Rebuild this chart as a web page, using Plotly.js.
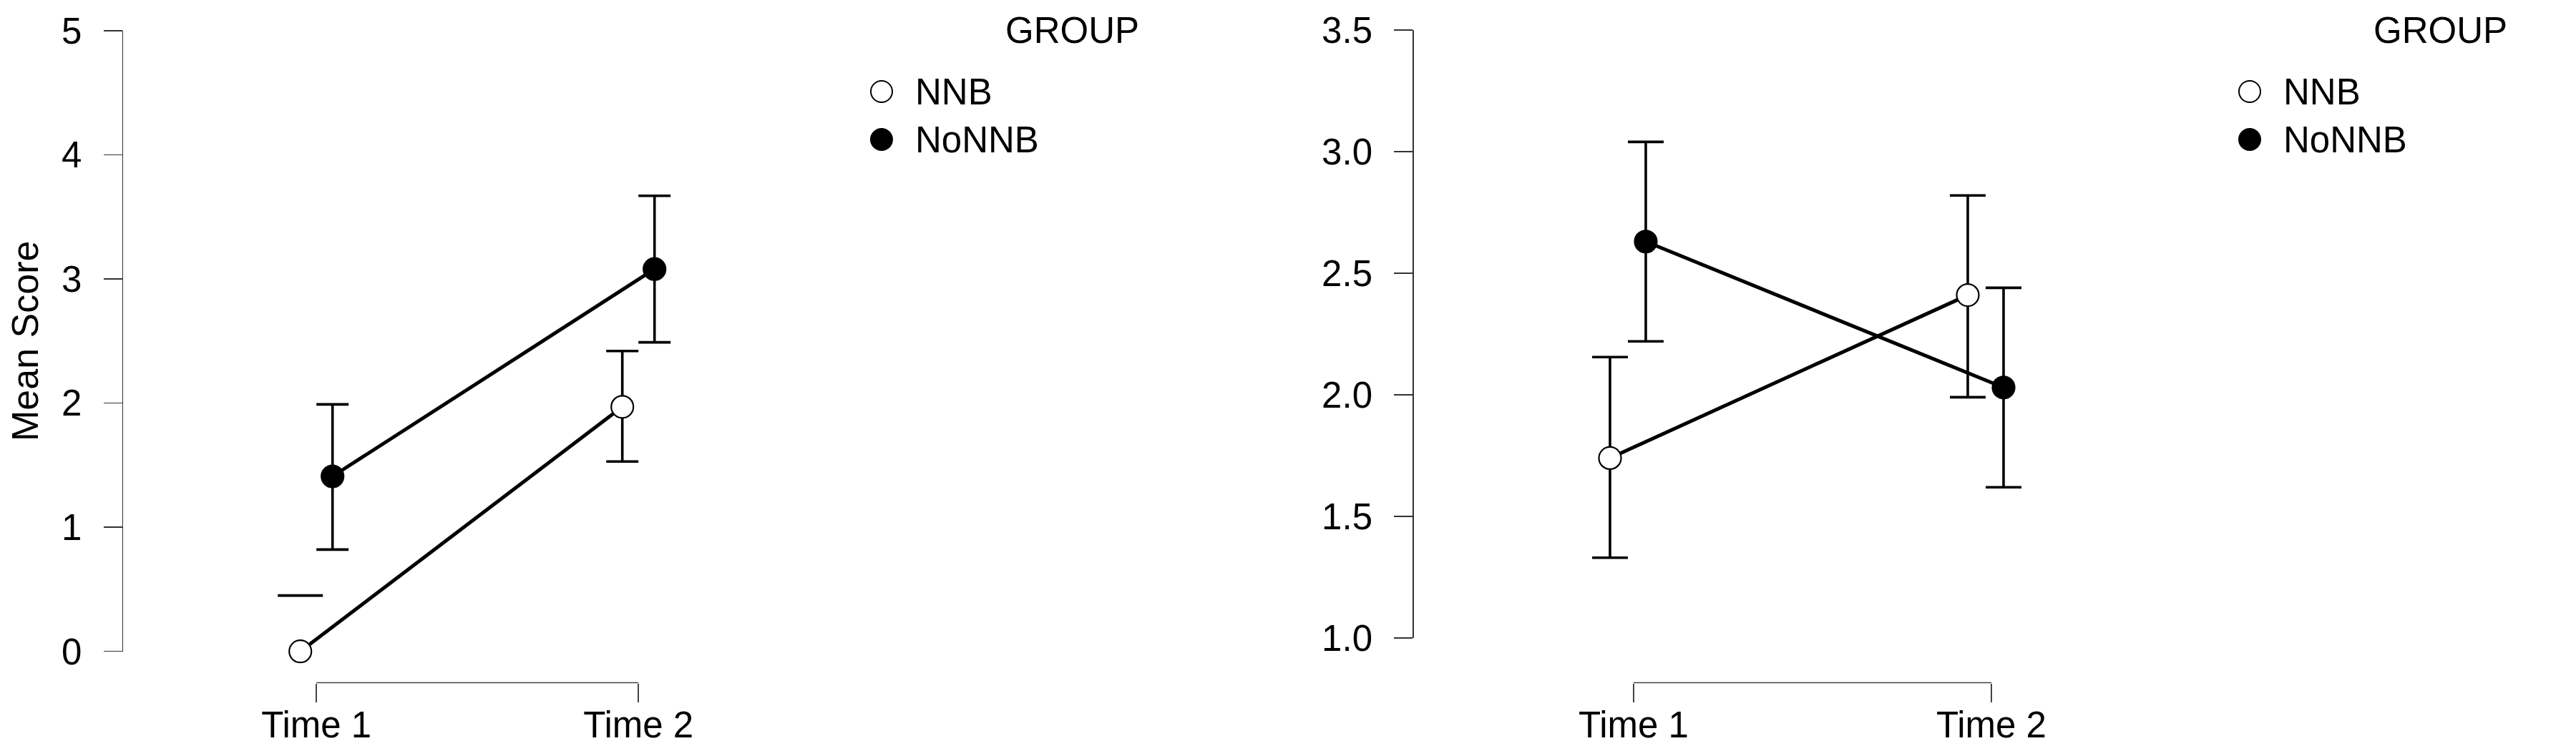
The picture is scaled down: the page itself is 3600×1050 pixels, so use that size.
<!DOCTYPE html>
<html>
<head>
<meta charset="utf-8">
<script src="https://cdn.plot.ly/plotly-3.0.1.min.js"></script>
<style>html,body{margin:0;padding:0;background:#fff;}#chart{width:3600px;height:1050px;}</style>
</head>
<body>
<div id="chart"></div>
<script>
// ---------- data ----------
const times = ['Time 1', 'Time 2'];
const groups = ['NNB', 'NoNNB'];
const legendTitle = 'GROUP';
const yLabel = 'Mean Score';

// Left panel
const leftMeanNNB   = [0.00, 1.97];
const leftLowerNNB  = [-0.45, 1.53];
const leftUpperNNB  = [0.45, 2.42];
const leftMeanNoNNB  = [1.41, 3.08];
const leftLowerNoNNB = [0.82, 2.49];
const leftUpperNoNNB = [1.99, 3.67];
const leftYTicks = [0, 1, 2, 3, 4, 5];

// Right panel
const rightMeanNNB   = [1.74, 2.41];
const rightLowerNNB  = [1.33, 1.99];
const rightUpperNNB  = [2.155, 2.82];
const rightMeanNoNNB  = [2.63, 2.03];
const rightLowerNoNNB = [2.22, 1.62];
const rightUpperNoNNB = [3.04, 2.44];
const rightYTicks = [1.0, 1.5, 2.0, 2.5, 3.0, 3.5];

// ---------- layout constants ----------
const W = 3600, H = 1050;
const FONT = 'Liberation Sans, Arial, Helvetica, sans-serif';
const FS = 51;
const px = v => v / W;
const py = v => 1 - v / H;
const DODGE = 0.05;

const panels = [
  { xa: 'x', ya: 'y', lx: 'x3', ly: 'y3',
    means: [leftMeanNNB, leftMeanNoNNB], lowers: [leftLowerNNB, leftLowerNoNNB], uppers: [leftUpperNNB, leftUpperNoNNB],
    yTicks: leftYTicks, fmt: v => String(v),
    axisX: 172, c1: 442.2, unit: 450, domEnd: 1150, yBot: 910.7, yTop: 43, cap: 22.5, tickShiftPx: 0,
    legMarkX: 1232, groupX: 1403 },
  { xa: 'x2', ya: 'y2', lx: 'x4', ly: 'y4',
    means: [rightMeanNNB, rightMeanNoNNB], lowers: [rightLowerNNB, rightLowerNoNNB], uppers: [rightUpperNNB, rightUpperNoNNB],
    yTicks: rightYTicks, fmt: v => v.toFixed(1),
    axisX: 1975.7, c1: 2275, unit: 500, domEnd: 3000, yBot: 892, yTop: 42, cap: 25, tickShiftPx: 8,
    legMarkX: 3144, groupX: 3315 }
];

const xAxisLinePx = 954.5;
const legRowTop = 128, legRowBot = 195;

const data = [];
const layout = {
  width: W, height: H,
  margin: { l: 0, r: 0, t: 0, b: 0, pad: 0 },
  paper_bgcolor: '#ffffff', plot_bgcolor: 'rgba(0,0,0,0)',
  showlegend: false,
  font: { family: FONT, size: FS, color: '#000' },
  shapes: [], annotations: []
};

panels.forEach((p, pi) => {
  const xr0 = 1 - (p.c1 - p.axisX) / p.unit;
  const xr1 = 1 + (p.domEnd - p.c1) / p.unit;
  const yr = [p.yTicks[0], p.yTicks[p.yTicks.length - 1]];
  const xKey = pi === 0 ? 'xaxis' : 'xaxis2';
  const yKey = pi === 0 ? 'yaxis' : 'yaxis2';
  const xPos = times.map((t, i) => i + 1);
  const tickPos = xPos.map(v => v + p.tickShiftPx / p.unit);

  layout[xKey] = {
    domain: [px(p.axisX), px(p.domEnd)], range: [xr0, xr1],
    anchor: 'free', position: py(xAxisLinePx),
    showline: false, showgrid: false, zeroline: false,
    ticks: 'outside', ticklen: 26, tickwidth: 1.5, tickcolor: '#444',
    tickvals: tickPos, ticktext: times, ticklabelstandoff: -12,
    tickfont: { family: FONT, size: FS, color: '#000' }, fixedrange: true
  };
  layout[yKey] = {
    domain: [py(p.yBot), py(p.yTop)], range: yr,
    anchor: p.xa,
    showline: true, linecolor: '#333', linewidth: 1.5,
    showgrid: false, zeroline: false,
    ticks: 'outside', ticklen: 26, tickwidth: 1.5, tickcolor: '#333',
    tickvals: p.yTicks, ticktext: p.yTicks.map(p.fmt), ticklabelstandoff: 20,
    tickfont: { family: FONT, size: FS, color: '#000' }, fixedrange: true
  };
  // R-style x axis line spanning only the categories
  layout.shapes.push({ type: 'line', xref: p.xa, yref: 'paper', x0: tickPos[0], x1: tickPos[tickPos.length - 1],
    y0: py(xAxisLinePx), y1: py(xAxisLinePx), line: { color: '#444', width: 1.5 } });

  // connecting lines first (below markers)
  groups.forEach((g, gi) => {
    const off = gi === 0 ? -DODGE : DODGE;
    data.push({
      type: 'scatter', mode: 'lines', xaxis: p.xa, yaxis: p.ya,
      x: xPos.map(v => v + off), y: p.means[gi],
      line: { color: '#000', width: 5 }, hoverinfo: 'skip', cliponaxis: false, showlegend: false
    });
  });
  // markers with error bars
  groups.forEach((g, gi) => {
    const off = gi === 0 ? -DODGE : DODGE;
    const m = p.means[gi], lo = p.lowers[gi], up = p.uppers[gi];
    const clipped = lo.map(v => v < yr[0]);
    const eUp = m.map((v, i) => clipped[i] ? NaN : up[i] - v);
    const eDn = m.map((v, i) => clipped[i] ? NaN : v - lo[i]);
    // cap-only for intervals running below the axis
    const capX = [], capY = [];
    clipped.forEach((c, i) => { if (c) { capX.push(xPos[i] + off); capY.push(up[i]); } });
    if (capX.length) {
      data.push({
        type: 'scatter', mode: 'markers', xaxis: p.xa, yaxis: p.ya, x: capX, y: capY,
        marker: { symbol: 'line-ew', size: p.cap * 2, color: '#000', line: { color: '#000', width: 3.6 } },
        hoverinfo: 'skip', cliponaxis: false, showlegend: false
      });
    }
    data.push({
      type: 'scatter', mode: 'markers', name: g, xaxis: p.xa, yaxis: p.ya,
      x: xPos.map(v => v + off), y: m,
      error_y: { type: 'data', symmetric: false, array: eUp, arrayminus: eDn,
                 color: '#000', thickness: 3.6, width: p.cap },
      marker: { size: 31, color: gi === 0 ? '#ffffff' : '#000000', line: { color: '#000', width: 2.2 } },
      cliponaxis: false, showlegend: false
    });
  });

  // custom legend on hidden axes
  const lxKey = pi === 0 ? 'xaxis3' : 'xaxis4';
  const lyKey = pi === 0 ? 'yaxis3' : 'yaxis4';
  layout[lxKey] = { domain: [px(p.legMarkX), px(p.legMarkX + 300)], range: [0, 1], visible: false, fixedrange: true, anchor: p.ly };
  layout[lyKey] = { domain: [py(legRowBot), py(legRowTop)], range: [0, groups.length - 1], visible: false, fixedrange: true, anchor: p.lx };
  data.push({
    type: 'scatter', mode: 'markers', xaxis: p.lx, yaxis: p.ly,
    x: groups.map(() => 0), y: groups.map((g, i) => groups.length - 1 - i),
    marker: { size: 30, color: groups.map((g, i) => i === 0 ? '#ffffff' : '#000000'), line: { color: '#000', width: 2 } },
    hoverinfo: 'skip', cliponaxis: false, showlegend: false
  });
  groups.forEach((g, i) => {
    layout.annotations.push({ xref: p.lx, yref: p.ly, x: 0, y: groups.length - 1 - i, xanchor: 'left', yanchor: 'middle',
      xshift: 45, text: g, showarrow: false, font: { family: FONT, size: FS, color: '#000' } });
  });
  layout.annotations.push({ xref: 'paper', yref: 'paper', x: px(p.groupX), y: py(42.5), xanchor: 'left', yanchor: 'middle',
    text: legendTitle, showarrow: false, font: { family: FONT, size: FS, color: '#000' } });
});

// y-axis title of the left panel
layout.annotations.push({ xref: 'paper', yref: 'paper', x: px(35), y: py(477), xanchor: 'center', yanchor: 'middle',
  text: yLabel, textangle: -90, showarrow: false, font: { family: FONT, size: 52, color: '#000' } });

Plotly.newPlot('chart', data, layout, { staticPlot: true, displayModeBar: false });
</script>
</body>
</html>
